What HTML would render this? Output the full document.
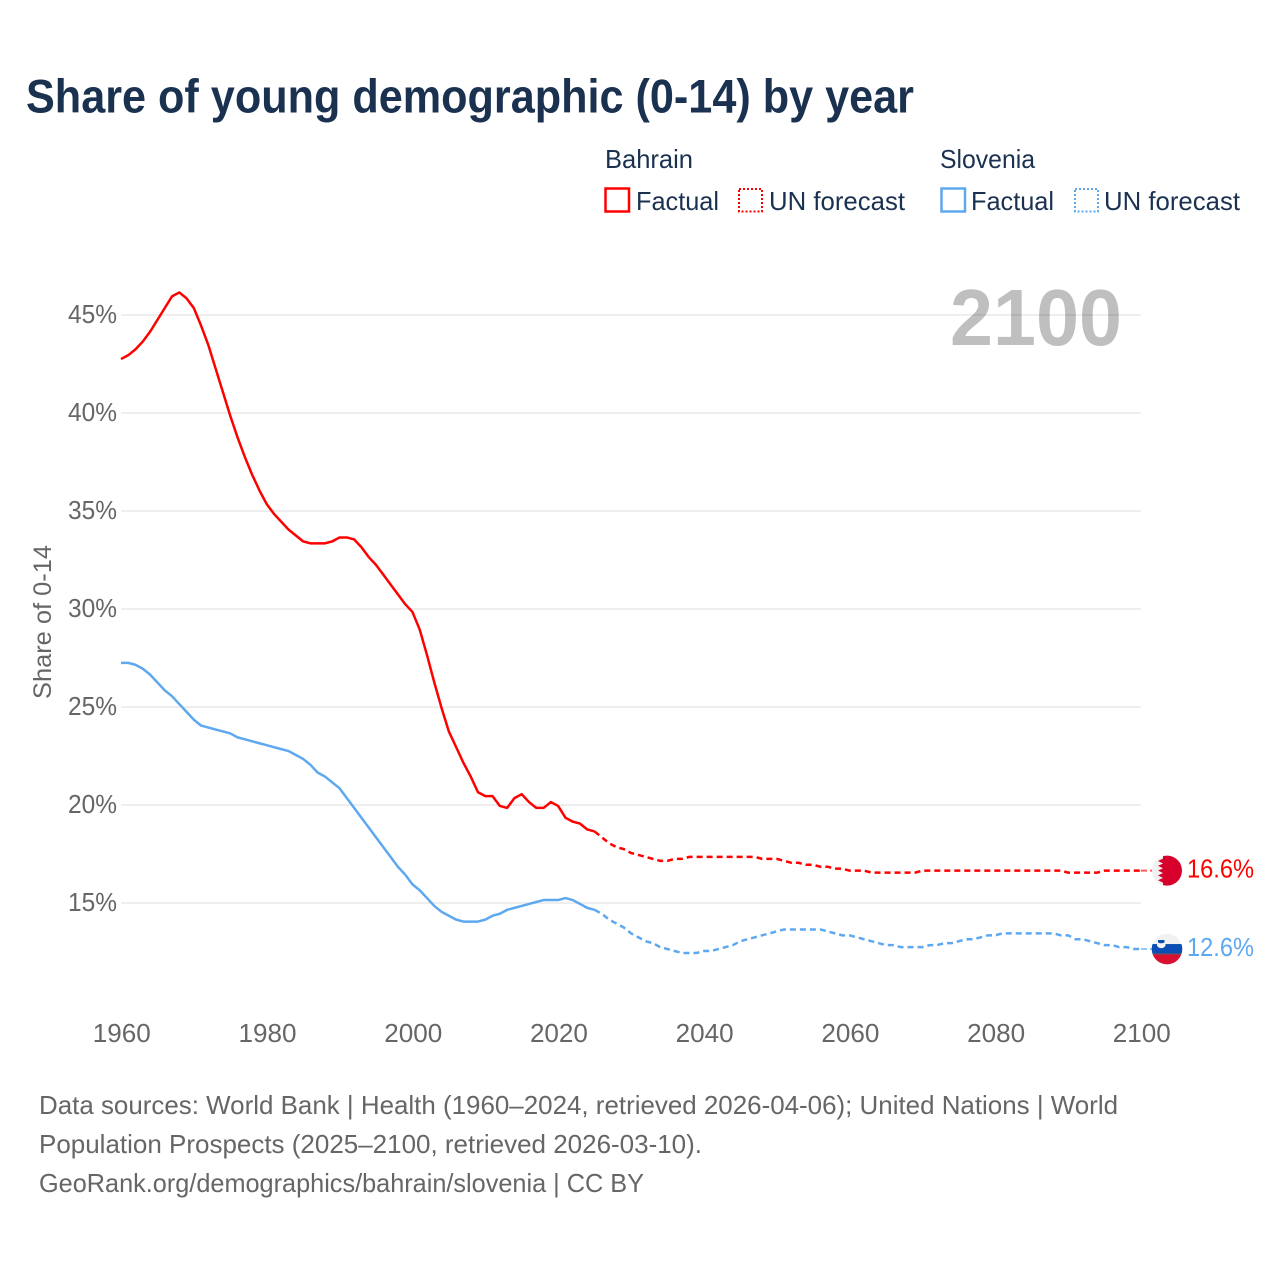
<!DOCTYPE html>
<html lang="en">
<head>
<meta charset="utf-8">
<title>Share of young demographic (0-14) by year</title>
<style>
  html, body { margin: 0; padding: 0; background: #fff; }
  svg { display: block; font-family: "Liberation Sans", sans-serif; }
  .tick { fill: #666; font-size: 26px; }
  .foot { fill: #666; font-size: 26px; }
  .leg { fill: #1a3150; font-size: 26px; }
</style>
</head>
<body>
<svg id="chart" xmlns="http://www.w3.org/2000/svg" width="1280" height="1280" viewBox="0 0 1280 1280">
  <rect x="0" y="0" width="1280" height="1280" fill="#fff"/>
  <text x="26" y="112.5" font-size="47" font-weight="700" fill="#1a3150" textLength="888" lengthAdjust="spacingAndGlyphs">Share of young demographic (0-14) by year</text>

  <g>
    <text class="leg" x="605" y="168" textLength="88" lengthAdjust="spacingAndGlyphs">Bahrain</text>
    <text class="leg" x="940" y="168" textLength="95" lengthAdjust="spacingAndGlyphs">Slovenia</text>
    <rect x="605.5" y="188.5" width="23.5" height="23" fill="none" stroke="#ff0000" stroke-width="2.5"/>
    <text class="leg" x="636" y="210" textLength="83" lengthAdjust="spacingAndGlyphs">Factual</text>
    <rect x="739" y="189" width="23" height="22.5" fill="none" stroke="#ff0000" stroke-width="2" stroke-dasharray="2 2"/>
    <text class="leg" x="769" y="210" textLength="136" lengthAdjust="spacingAndGlyphs">UN forecast</text>
    <rect x="941.5" y="188.5" width="23.5" height="23" fill="none" stroke="#5ea8f0" stroke-width="2.5"/>
    <text class="leg" x="971" y="210" textLength="83" lengthAdjust="spacingAndGlyphs">Factual</text>
    <rect x="1075" y="189" width="23" height="22.5" fill="none" stroke="#5ea8f0" stroke-width="2" stroke-dasharray="2 2"/>
    <text class="leg" x="1104" y="210" textLength="136" lengthAdjust="spacingAndGlyphs">UN forecast</text>
  </g>

  <g id="grid"></g>
  <g id="yticks"></g>
  <g id="xticks"></g>

  <text x="950" y="345" font-size="80" font-weight="700" fill="#000" fill-opacity="0.25" textLength="172" lengthAdjust="spacingAndGlyphs">2100</text>
  <text transform="translate(51 699) rotate(-90)" x="0" y="0" font-size="25" fill="#666" textLength="154" lengthAdjust="spacingAndGlyphs">Share of 0-14</text>

  <g id="series"></g>

  <g id="flag-bahrain">
    <clipPath id="bah-clip"><circle cx="0" cy="0" r="15"/></clipPath>
    <g clip-path="url(#bah-clip)">
      <rect x="-15" y="-15" width="30" height="30" fill="#f1f1f1"/>
      <path d="M-4 -16 V-12 L-9 -9.6 L-4 -7.2 L-9 -4.8 L-4 -2.4 L-9 0 L-4 2.4 L-9 4.8 L-4 7.2 L-9 9.6 L-4 12 V16 H16 V-16 Z" fill="#d7002c"/>
    </g>
  </g>
  <g id="flag-slovenia">
    <clipPath id="slo-clip"><circle cx="0" cy="0" r="15.3"/></clipPath>
    <g clip-path="url(#slo-clip)">
      <rect x="-16" y="-16" width="32" height="11" fill="#f1f1f1"/>
      <rect x="-16" y="-5" width="32" height="9.5" fill="#0a50b4"/>
      <rect x="-16" y="4.5" width="32" height="1" fill="#6a4a55"/>
      <rect x="-16" y="5.5" width="32" height="10.5" fill="#d7112f"/>
      <path d="M-10 -9 H-1.5 V-4 Q-2 -1 -5.7 -0.8 Q-9.5 -1 -10 -4 Z" fill="#f4f4f4"/>
      <path d="M-9 -9 H-2.5 V-6.5 Q-5.7 -5 -9 -6.5 Z" fill="#0a50b4"/>
    </g>
  </g>

  <g>
    <text class="foot" x="39" y="1114" textLength="1079" lengthAdjust="spacingAndGlyphs">Data sources: World Bank | Health (1960–2024, retrieved 2026-04-06); United Nations | World</text>
    <text class="foot" x="39" y="1153" textLength="663" lengthAdjust="spacingAndGlyphs">Population Prospects (2025–2100, retrieved 2026-03-10).</text>
    <text class="foot" x="39" y="1192" textLength="605" lengthAdjust="spacingAndGlyphs">GeoRank.org/demographics/bahrain/slovenia | CC BY</text>
  </g>
</svg>

<script>
const factualStartYear = 1960;
const forecastStartYear = 2025;
const xTickYears = [1960, 1980, 2000, 2020, 2040, 2060, 2080, 2100];
const yTickValues = [15, 20, 25, 30, 35, 40, 45];

const bahrainFactual = [
  42.7,42.9,43.2,43.6,44.1,44.7,45.3,45.9,46.1,45.8,
  45.3,44.4,43.4,42.2,41.0,39.8,38.7,37.7,36.8,36.0,
  35.3,34.8,34.4,34.0,33.7,33.4,33.3,33.3,33.3,33.4,
  33.6,33.6,33.5,33.1,32.6,32.2,31.7,31.2,30.7,30.2,
  29.8,28.9,27.6,26.2,24.9,23.7,22.9,22.1,21.4,20.6,
  20.4,20.4,19.9,19.8,20.3,20.5,20.1,19.8,19.8,20.1,
  19.9,19.3,19.1,19.0,18.7,18.6
];
const bahrainForecast = [
  18.6,18.3,18.0,17.8,17.7,17.5,17.4,17.3,17.2,17.1,
  17.1,17.2,17.2,17.3,17.3,17.3,17.3,17.3,17.3,17.3,
  17.3,17.3,17.3,17.2,17.2,17.2,17.1,17.0,17.0,16.9,
  16.9,16.8,16.8,16.7,16.7,16.6,16.6,16.6,16.5,16.5,
  16.5,16.5,16.5,16.5,16.5,16.6,16.6,16.6,16.6,16.6,
  16.6,16.6,16.6,16.6,16.6,16.6,16.6,16.6,16.6,16.6,
  16.6,16.6,16.6,16.6,16.6,16.5,16.5,16.5,16.5,16.5,
  16.6,16.6,16.6,16.6,16.6,16.6
];
const sloveniaFactual = [
  27.2,27.2,27.1,26.9,26.6,26.2,25.8,25.5,25.1,24.7,
  24.3,24.0,23.9,23.8,23.7,23.6,23.4,23.3,23.2,23.1,
  23.0,22.9,22.8,22.7,22.5,22.3,22.0,21.6,21.4,21.1,
  20.8,20.3,19.8,19.3,18.8,18.3,17.8,17.3,16.8,16.4,
  15.9,15.6,15.2,14.8,14.5,14.3,14.1,14.0,14.0,14.0,
  14.1,14.3,14.4,14.6,14.7,14.8,14.9,15.0,15.1,15.1,
  15.1,15.2,15.1,14.9,14.7,14.6
];
const sloveniaForecast = [
  14.6,14.4,14.1,13.9,13.7,13.4,13.2,13.0,12.9,12.7,
  12.6,12.5,12.4,12.4,12.4,12.5,12.5,12.6,12.7,12.8,
  13.0,13.1,13.2,13.3,13.4,13.5,13.6,13.6,13.6,13.6,
  13.6,13.6,13.5,13.4,13.3,13.3,13.2,13.1,13.0,12.9,
  12.8,12.8,12.7,12.7,12.7,12.7,12.8,12.8,12.9,12.9,
  13.0,13.1,13.1,13.2,13.3,13.3,13.4,13.4,13.4,13.4,
  13.4,13.4,13.4,13.4,13.3,13.3,13.1,13.1,13.0,12.9,
  12.8,12.8,12.7,12.7,12.6,12.6
];

const SVG_NS = 'http://www.w3.org/2000/svg';
const xScale = function (year) { return 121 + (year - 1960) * (1141 - 121) / 140; };
const yScale = function (v) { return 903 - (v - 15) * 19.6; };
const lineOffset = -1;

function make(tag, parent, attrs, text) {
  const el = document.createElementNS(SVG_NS, tag);
  Object.keys(attrs).forEach(function (k) { el.setAttribute(k, attrs[k]); });
  if (text !== undefined) el.textContent = text;
  parent.appendChild(el);
  return el;
}
function linePath(values, startYear) {
  return values.map(function (v, i) {
    return (i ? 'L' : 'M') + xScale(startYear + i).toFixed(2) + ' ' + (yScale(v) + lineOffset).toFixed(2);
  }).join(' ');
}

const grid = document.getElementById('grid');
const yticks = document.getElementById('yticks');
const xticks = document.getElementById('xticks');
const series = document.getElementById('series');

yTickValues.forEach(function (v) {
  const g = make('line', grid, { x1: 121, x2: 1141, y1: yScale(v), y2: yScale(v), stroke: '#eeeeee', 'stroke-width': 2 });
  
  
  const t = make('text', yticks, { class: 'tick', x: 117, y: yScale(v) + 8, 'text-anchor': 'end', textLength: 49, lengthAdjust: 'spacingAndGlyphs' }, v + '%');
  
  
});
xTickYears.forEach(function (y) {
  const t = make('text', xticks, { class: 'tick', x: xScale(y) + 0.8, y: 1042, 'text-anchor': 'middle', textLength: 58, lengthAdjust: 'spacingAndGlyphs' }, String(y));
  
  
});

function drawCountry(key, color, factual, forecast, flagId, textColor) {
  const f = make('path', series, { d: linePath(factual, factualStartYear), fill: 'none', stroke: color, 'stroke-width': 2.5, 'stroke-linejoin': 'round' });
  
  
  const p = make('path', series, { d: linePath(forecast, forecastStartYear), fill: 'none', stroke: color, 'stroke-width': 2.5, 'stroke-dasharray': '6 4' });
  
  
  const last = forecast[forecast.length - 1];
  const ly = yScale(last) + lineOffset;
  const c = make('line', series, { x1: xScale(2100), x2: 1152, y1: ly, y2: ly, stroke: color, 'stroke-width': 2, 'stroke-dasharray': '6 3', opacity: 0.65 });
  
  
  document.getElementById(flagId).setAttribute('transform', 'translate(1167 ' + ly + ')');
  const l = make('text', series, { x: 1187, y: ly + 7, 'font-size': 26, fill: textColor, textLength: 67, lengthAdjust: 'spacingAndGlyphs' }, last.toFixed(1) + '%');
  
  
}
drawCountry('bahrain', '#ff0000', bahrainFactual, bahrainForecast, 'flag-bahrain', '#ff0000');
drawCountry('slovenia', '#5ea8f0', sloveniaFactual, sloveniaForecast, 'flag-slovenia', '#5ea8f0');
</script>
</body>
</html>
